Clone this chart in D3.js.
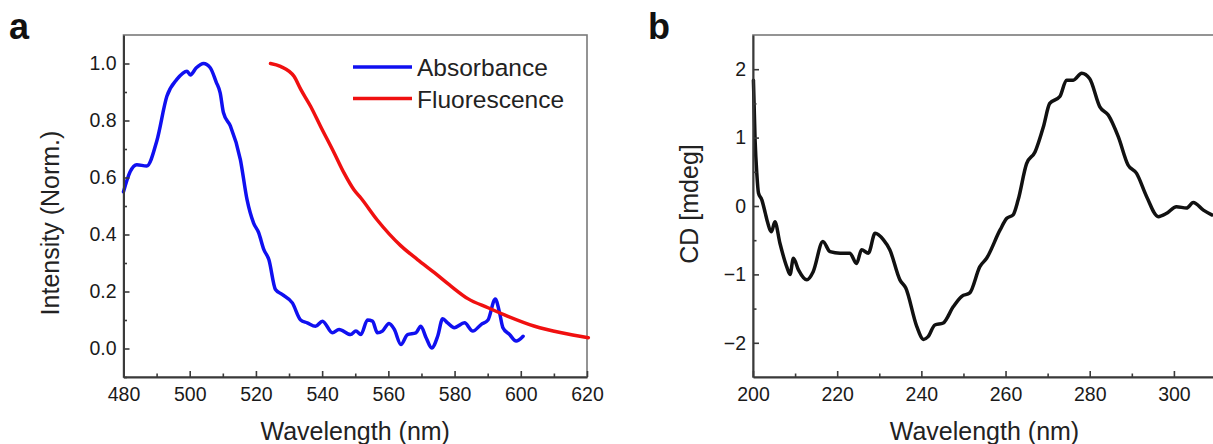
<!DOCTYPE html>
<html>
<head>
<meta charset="utf-8">
<script src="https://cdn.jsdelivr.net/npm/d3@7"></script>
<style>
  body { margin: 0; background: #fff; }
  svg { display: block; font-family: "Liberation Sans", Arial, sans-serif; }
</style>
</head>
<body>
<svg id="chart" width="1213" height="444"></svg>
<script>
// panel a: absorbance / fluorescence (normalized)
const absWl = [480, 482, 484, 487, 490.1, 493.1, 496.1, 499.2, 500.2, 502, 504.2, 506.2, 508, 509.2, 510.2, 512.3, 515.3, 517.3, 519.3, 520.8, 522.4, 523.9, 525.9, 527.9, 531, 533.5, 535.5, 538, 540.1, 543.1, 545.1, 548.6, 550.2, 551.7, 553.7, 555.2, 556.7, 558.2, 560.2, 561.8, 563.8, 565.8, 568.3, 569.8, 571.4, 573.1, 574.9, 576.4, 577.9, 579.9, 583, 585.5, 588, 590.1, 592.3, 593.6, 594.6, 596.6, 598.6, 600.7];
const absVal = [0.55, 0.62, 0.645, 0.64, 0.73, 0.885, 0.944, 0.973, 0.96, 0.985, 1.0, 0.985, 0.935, 0.897, 0.827, 0.78, 0.663, 0.523, 0.44, 0.407, 0.347, 0.312, 0.207, 0.19, 0.16, 0.10, 0.09, 0.078, 0.096, 0.055, 0.067, 0.049, 0.061, 0.049, 0.10, 0.096, 0.055, 0.061, 0.088, 0.067, 0.014, 0.049, 0.055, 0.078, 0.038, 0.002, 0.043, 0.104, 0.09, 0.073, 0.09, 0.061, 0.084, 0.10, 0.174, 0.125, 0.073, 0.049, 0.026, 0.043];

const fluWl = [524.4, 527.4, 531.5, 533.5, 536.5, 539.5, 543.6, 546.6, 549.6, 551.7, 556.7, 563.8, 568.8, 573.9, 578.9, 584, 590.1, 596.1, 604.2, 612.3, 620.4];
const fluVal = [1.0, 0.99, 0.955, 0.91, 0.85, 0.78, 0.687, 0.616, 0.557, 0.528, 0.45, 0.36, 0.312, 0.266, 0.219, 0.175, 0.143, 0.113, 0.078, 0.055, 0.038];

// panel b: circular dichroism
const cdWl = [200.1, 200.5, 200.9, 201.3, 202.1, 202.9, 203.3, 204.4, 205.2, 206.4, 208.0, 208.8, 209.6, 210.8, 212.8, 214.3, 216.6, 218.3, 220.7, 223.0, 224.6, 225.8, 227.4, 229.0, 231.0, 232.5, 234.9, 236.3, 238.9, 240.5, 241.6, 243.2, 245.2, 247.6, 249.6, 251.5, 253.9, 255.5, 258.7, 260.3, 261.8, 263.0, 265.0, 267.0, 269.0, 270.5, 272.9, 274.5, 276.1, 278.1, 280.0, 282.4, 284.4, 286.8, 289.1, 291.1, 293.5, 296.3, 298.3, 300.6, 303.0, 304.6, 307.0, 309.0];
const cdVal = [1.84, 0.96, 0.48, 0.19, 0.09, -0.1, -0.2, -0.375, -0.23, -0.545, -0.886, -1.0, -0.764, -0.934, -1.08, -0.96, -0.52, -0.667, -0.69, -0.69, -0.84, -0.64, -0.69, -0.40, -0.496, -0.64, -1.08, -1.2, -1.76, -1.95, -1.91, -1.74, -1.71, -1.47, -1.32, -1.27, -0.886, -0.764, -0.35, -0.18, -0.13, 0.09, 0.62, 0.79, 1.16, 1.50, 1.60, 1.84, 1.84, 1.94, 1.86, 1.45, 1.33, 1.01, 0.60, 0.48, 0.14, -0.156, -0.107, -0.01, -0.03, 0.05, -0.06, -0.13];

const aXTicks = [480, 500, 520, 540, 560, 580, 600, 620];
const aXMinor = [490, 510, 530, 550, 570, 590, 610];
const aYTicks = [0.0, 0.2, 0.4, 0.6, 0.8, 1.0];
const aYMinor = [-0.1, 0.1, 0.3, 0.5, 0.7, 0.9];
const bXTicks = [200, 220, 240, 260, 280, 300];
const bXMinor = [210, 230, 250, 270, 290, 310];
const bYTicks = [-2, -1, 0, 1, 2];
const bYMinor = [-1.5, -0.5, 0.5, 1.5];

const seriesNames = ["Absorbance", "Fluorescence"];
const seriesColors = ["#1010f0", "#f01010"];

const svg = d3.select("#chart");
svg.append("rect").attr("width", 1213).attr("height", 444).attr("fill", "#fff");

function drawPanel(opts)
{
    const g = svg.append("g");
    const x = d3.scaleLinear().domain(opts.xDomain).range([opts.left, opts.right]);
    const y = d3.scaleLinear().domain(opts.yDomain).range([opts.bottom, opts.top]);

    // frame (top/right lighter)
    g.append("rect")
        .attr("x", opts.left).attr("y", opts.top)
        .attr("width", opts.right - opts.left).attr("height", opts.bottom - opts.top)
        .attr("fill", "none").attr("stroke", "#7a7a7a").attr("stroke-width", 1.6);

    const line = d3.line()
        .x(d => x(d[0]))
        .y(d => y(d[1]))
        .curve(d3.curveMonotoneX);

    for (const s of opts.series) {
        g.append("path")
            .datum(d3.zip(s.x, s.y))
            .attr("fill", "none")
            .attr("stroke", s.color)
            .attr("stroke-width", 3.5)
            .attr("stroke-linejoin", "round")
            .attr("stroke-linecap", "round")
            .attr("d", line);
    }

    g.append("g")
        .attr("transform", `translate(0,${opts.bottom})`)
        .call(d3.axisBottom(x).tickValues(opts.xTicks).tickSizeInner(-6).tickSizeOuter(0).tickPadding(10).tickFormat(d3.format("d")));
    g.append("g")
        .attr("transform", `translate(0,${opts.bottom})`)
        .call(d3.axisBottom(x).tickValues(opts.xMinor).tickSizeInner(-3.5).tickSizeOuter(0).tickFormat(""))
        .call(a => a.select(".domain").remove());

    g.append("g")
        .attr("transform", `translate(${opts.left},0)`)
        .call(d3.axisLeft(y).tickValues(opts.yTicks).tickSizeInner(-6).tickSizeOuter(0).tickPadding(7).tickFormat(opts.yFormat));
    g.append("g")
        .attr("transform", `translate(${opts.left},0)`)
        .call(d3.axisLeft(y).tickValues(opts.yMinor).tickSizeInner(-3.5).tickSizeOuter(0).tickFormat(""))
        .call(a => a.select(".domain").remove());

    g.selectAll(".domain").attr("stroke", "#3a3a3a").attr("stroke-width", 2);
    g.selectAll(".tick line").attr("stroke", "#3a3a3a").attr("stroke-width", 1.6);
    g.selectAll(".tick text")
        .attr("font-family", "'Liberation Sans', Arial, sans-serif")
        .attr("font-size", 19.5)
        .attr("fill", "#1a1a1a");

    g.append("text")
        .attr("x", (opts.left + opts.right) / 2)
        .attr("y", 440)
        .attr("text-anchor", "middle")
        .attr("font-size", 25)
        .attr("fill", "#222")
        .text("Wavelength (nm)");

    g.append("text")
        .attr("transform", `translate(${opts.yTitleX},${opts.yTitleY}) rotate(-90)`)
        .attr("text-anchor", "middle")
        .attr("font-size", 25)
        .attr("fill", "#222")
        .text(opts.yTitle);

    g.append("text")
        .attr("x", opts.labelX)
        .attr("y", 39)
        .attr("font-size", 36)
        .attr("font-weight", "bold")
        .attr("fill", "#111")
        .text(opts.label);

    return { g, x, y };
}

const pa = drawPanel({
    left: 123.5, right: 587, top: 35, bottom: 377,
    xDomain: [480, 620], yDomain: [-0.1, 1.1],
    xTicks: aXTicks, xMinor: aXMinor, yTicks: aYTicks, yMinor: aYMinor,
    yFormat: d3.format(".1f"),
    series: [
        { x: absWl, y: absVal, color: seriesColors[0] },
        { x: fluWl, y: fluVal, color: seriesColors[1] }
    ],
    yTitle: "Intensity (Norm.)", yTitleX: 59, yTitleY: 223,
    label: "a", labelX: 9
});

// legend
const legend = pa.g.append("g");
seriesNames.forEach((name, i) => {
    const ly = 67 + i * 31.5;
    legend.append("line")
        .attr("x1", 353).attr("x2", 412).attr("y1", ly).attr("y2", ly)
        .attr("stroke", seriesColors[i]).attr("stroke-width", 3.6);
    legend.append("text")
        .attr("x", 417).attr("y", ly + 9)
        .attr("font-size", 24.5)
        .attr("fill", "#222")
        .text(name);
});

drawPanel({
    left: 753, right: 1216, top: 35, bottom: 377,
    xDomain: [200, 310], yDomain: [-2.5, 2.5],
    xTicks: bXTicks, xMinor: bXMinor, yTicks: bYTicks, yMinor: bYMinor,
    yFormat: d3.format("d"),
    series: [{ x: cdWl, y: cdVal, color: "#111" }],
    yTitle: "CD [mdeg]", yTitleX: 698, yTitleY: 204,
    label: "b", labelX: 648
});
</script>
</body>
</html>
